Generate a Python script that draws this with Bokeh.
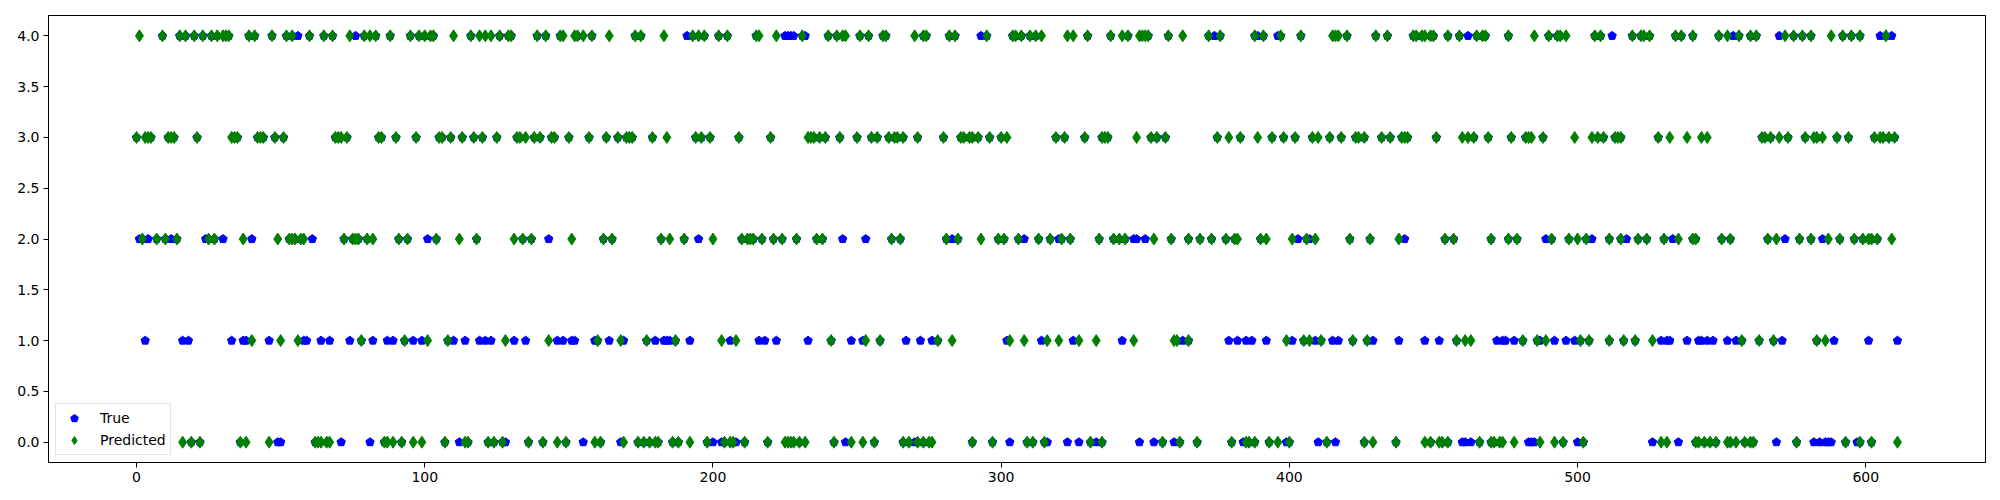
from bokeh.plotting import figure
from bokeh.models import ColumnDataSource, FixedTicker, Legend, LegendItem, NumeralTickFormatter
from bokeh.embed import file_html
from bokeh.resources import INLINE

# ---- data: sample index lists per predicted class ----
pred_class4 = [1, 9, 15, 17, 20, 23, 26, 28, 30, 31, 32, 39, 41, 47, 52, 54, 60, 65, 68, 74, 79, 81, 83, 88, 95, 98, 100, 102, 103, 110, 116, 119, 121, 123, 126, 129, 130, 139, 142, 147, 148, 152, 153, 155, 158, 164, 173, 175, 183, 193, 195, 197, 202, 205, 215, 216, 222, 231, 240, 243, 245, 246, 251, 254, 259, 260, 270, 273, 274, 282, 284, 295, 304, 305, 307, 310, 312, 314, 323, 325, 330, 338, 342, 344, 348, 349, 350, 351, 358, 363, 372, 376, 388, 391, 397, 404, 415, 416, 417, 420, 430, 434, 443, 444, 446, 447, 449, 450, 455, 459, 465, 467, 468, 476, 485, 490, 493, 494, 496, 506, 508, 519, 522, 523, 525, 534, 536, 540, 549, 552, 556, 560, 562, 572, 575, 578, 581, 588, 592, 595, 598, 607]
pred_class3 = [0, 3, 4, 5, 11, 12, 13, 21, 33, 34, 35, 42, 43, 44, 48, 51, 69, 70, 71, 73, 84, 85, 90, 97, 105, 106, 109, 113, 117, 120, 125, 132, 133, 135, 138, 140, 144, 145, 150, 157, 163, 167, 170, 171, 172, 179, 184, 194, 196, 199, 209, 220, 233, 234, 235, 237, 239, 244, 250, 255, 257, 261, 263, 264, 266, 271, 280, 286, 287, 289, 290, 292, 296, 300, 302, 319, 322, 329, 335, 336, 337, 347, 352, 354, 357, 375, 379, 383, 389, 394, 398, 402, 408, 410, 414, 418, 423, 424, 426, 432, 435, 439, 440, 441, 451, 460, 462, 464, 469, 477, 482, 483, 484, 488, 499, 505, 507, 509, 513, 514, 515, 528, 532, 538, 543, 545, 564, 565, 567, 570, 573, 579, 582, 583, 585, 590, 594, 603, 605, 606, 608, 610]
pred_class2 = [2, 7, 10, 14, 25, 27, 37, 49, 53, 54, 55, 57, 58, 72, 75, 76, 77, 80, 82, 91, 94, 104, 112, 118, 131, 134, 137, 151, 162, 165, 182, 185, 190, 200, 210, 212, 213, 214, 217, 221, 224, 229, 236, 238, 262, 265, 281, 285, 293, 299, 301, 306, 313, 317, 321, 324, 334, 339, 341, 343, 353, 359, 365, 369, 373, 378, 381, 382, 390, 392, 401, 406, 409, 421, 428, 438, 454, 457, 470, 476, 479, 491, 497, 500, 503, 511, 515, 521, 524, 530, 535, 540, 541, 550, 553, 566, 569, 577, 581, 587, 591, 596, 599, 601, 602, 604, 609]
pred_class1 = [40, 50, 56, 78, 93, 101, 108, 128, 143, 160, 168, 177, 187, 203, 208, 241, 253, 258, 278, 283, 303, 308, 316, 320, 327, 333, 346, 360, 361, 365, 399, 405, 407, 411, 422, 427, 458, 461, 463, 481, 486, 489, 501, 504, 511, 516, 520, 526, 557, 563, 568, 583, 586]
pred_class0 = [16, 19, 22, 36, 38, 46, 62, 63, 64, 66, 67, 86, 87, 89, 92, 96, 99, 107, 114, 115, 122, 124, 127, 136, 141, 146, 149, 159, 161, 169, 174, 176, 178, 180, 181, 186, 188, 192, 198, 204, 206, 207, 211, 219, 225, 226, 227, 228, 230, 232, 242, 248, 252, 256, 266, 268, 271, 273, 275, 276, 290, 297, 309, 311, 315, 331, 335, 356, 362, 368, 380, 385, 386, 388, 393, 396, 400, 413, 426, 429, 437, 447, 449, 452, 453, 455, 466, 470, 471, 473, 474, 478, 487, 492, 495, 502, 529, 531, 541, 542, 544, 546, 548, 552, 553, 555, 558, 560, 561, 576, 593, 598, 602, 611]

# ---- data: indices where the true class differs from the prediction ----
true_diff_class4 = [56, 76, 191, 225, 226, 227, 228, 232, 293, 374, 389, 396, 462, 512, 554, 570, 605, 609]
true_diff_class2 = [1, 4, 12, 24, 30, 40, 61, 101, 143, 195, 245, 253, 283, 308, 320, 346, 347, 350, 403, 407, 440, 489, 505, 517, 533, 572, 585]
true_diff_class1 = [3, 16, 18, 33, 37, 38, 46, 58, 59, 64, 67, 74, 82, 87, 89, 96, 99, 110, 114, 119, 121, 123, 131, 135, 146, 148, 151, 152, 159, 164, 169, 180, 183, 184, 185, 192, 206, 216, 218, 222, 233, 248, 252, 267, 272, 276, 302, 314, 325, 342, 363, 379, 382, 385, 387, 392, 401, 409, 415, 417, 429, 438, 447, 452, 472, 474, 475, 478, 487, 492, 496, 499, 529, 531, 532, 538, 542, 543, 545, 547, 552, 555, 571, 589, 601, 611]
true_diff_class0 = [49, 50, 71, 81, 112, 128, 155, 168, 200, 203, 208, 246, 270, 303, 316, 323, 327, 333, 348, 353, 360, 384, 399, 410, 416, 460, 461, 463, 483, 484, 485, 500, 526, 535, 569, 582, 584, 586, 587, 588, 597]

x_ticks = [0, 100, 200, 300, 400, 500, 600]
y_ticks = [0.0, 0.5, 1.0, 1.5, 2.0, 2.5, 3.0, 3.5, 4.0]

# ---- build series ----
pred_lists = {0: pred_class0, 1: pred_class1, 2: pred_class2, 3: pred_class3, 4: pred_class4}
diff_lists = {0: true_diff_class0, 1: true_diff_class1, 2: true_diff_class2, 3: [], 4: true_diff_class4}
diff_all = set()
for v in diff_lists.values():
    diff_all.update(v)

pred_x, pred_y = [], []
for c, idxs in pred_lists.items():
    for i in idxs:
        pred_x.append(i)
        pred_y.append(c)

true_x, true_y = [], []
for c, idxs in pred_lists.items():
    for i in idxs:
        if i not in diff_all:
            true_x.append(i)
            true_y.append(c)
for c, idxs in diff_lists.items():
    for i in idxs:
        true_x.append(i)
        true_y.append(c)

src_true = ColumnDataSource(dict(x=true_x, y=true_y))
src_pred = ColumnDataSource(dict(x=pred_x, y=pred_y))

FONT = "DejaVu Sans"

p = figure(frame_width=1937, frame_height=447,
           x_range=(-30.55, 641.55), y_range=(-0.2, 4.2),
           output_backend="svg", toolbar_location=None,
           min_border_left=48, min_border_right=10, min_border_top=15, min_border_bottom=36)
p.xgrid.grid_line_color = None
p.ygrid.grid_line_color = None
p.outline_line_color = "black"
p.outline_line_width = 1
p.background_fill_color = "white"
p.border_fill_color = "white"

for ax in (p.xaxis[0], p.yaxis[0]):
    ax.axis_line_color = "black"
    ax.major_tick_line_color = "black"
    ax.major_tick_out = 5
    ax.major_tick_in = 0
    ax.minor_tick_line_color = None
    ax.major_label_text_font = FONT
    ax.major_label_text_font_size = "14px"
    ax.major_label_text_color = "black"
    ax.major_label_standoff = 4

p.xaxis[0].ticker = FixedTicker(ticks=x_ticks)
p.yaxis[0].ticker = FixedTicker(ticks=y_ticks)
p.yaxis[0].formatter = NumeralTickFormatter(format="0.0")

r_true = p.ngon(x="x", y="y", radius=4.4, radius_units="screen", n=5, angle=0,
                fill_color="blue", line_color="blue", line_width=1, source=src_true)

r_pred = p.scatter(x="x", y="y", marker="diamond", size=12,
                   fill_color="green", line_color="green", line_width=1, source=src_pred)

legend = Legend(items=[LegendItem(label="True", renderers=[r_true]),
                       LegendItem(label="Predicted", renderers=[r_pred])],
                location="bottom_left")
legend.margin = 7
legend.padding = 4
legend.spacing = 2
legend.glyph_width = 28
legend.glyph_height = 20
legend.label_height = 20
legend.label_standoff = 12
legend.label_text_font = FONT
legend.label_text_font_size = "14px"
legend.label_text_color = "black"
legend.border_line_color = "#cccccc"
legend.border_line_width = 1
legend.background_fill_alpha = 0.8
p.add_layout(legend)

open("out.html", "w").write(file_html(p, INLINE))
